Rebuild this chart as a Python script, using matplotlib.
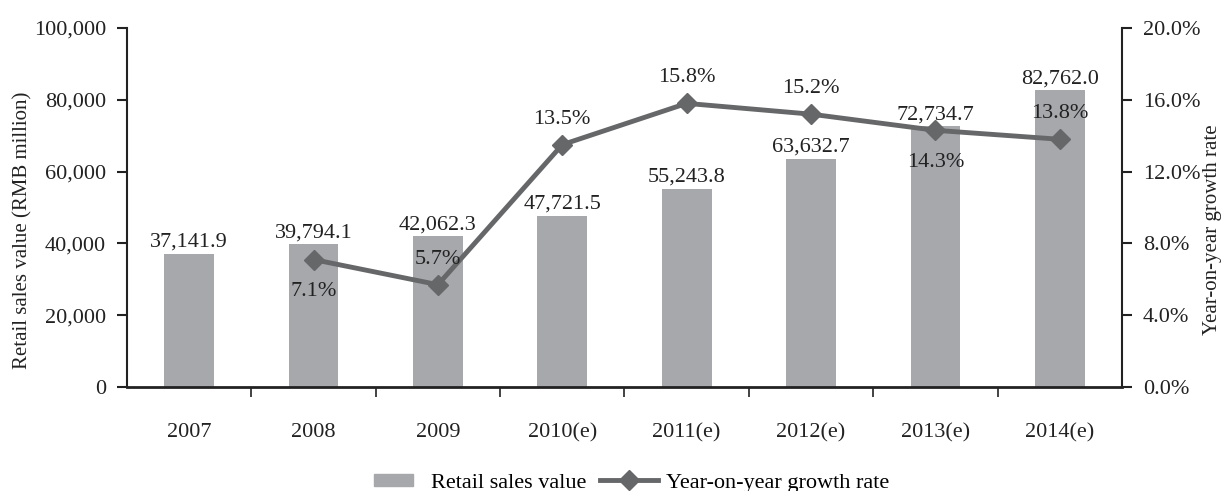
import matplotlib
matplotlib.use("Agg")
import matplotlib.pyplot as plt
from matplotlib.lines import Line2D
from matplotlib.patches import Patch, Rectangle
from matplotlib.legend_handler import HandlerPatch
import numpy as np

years = ["2007", "2008", "2009", "2010(e)", "2011(e)", "2012(e)", "2013(e)", "2014(e)"]
sales = [37141.9, 39794.1, 42062.3, 47721.5, 55243.8, 63632.7, 72734.7, 82762.0]
growth_years = ["2008", "2009", "2010(e)", "2011(e)", "2012(e)", "2013(e)", "2014(e)"]
growth = [7.1, 5.7, 13.5, 15.8, 15.2, 14.3, 13.8]
growth_label_below = [True, False, False, False, False, True, False]

plt.rcParams["font.family"] = ["Liberation Serif", "DejaVu Serif"]
FS = 16
LFS = 15
bar_color = "#a7a8ac"
line_color = "#666769"
text_color = "#222222"

fig = plt.figure(figsize=(12.27, 4.91), dpi=100)
ax = fig.add_axes([0.1035, 0.2118, 0.8109, 0.7312])
ax2 = ax.twinx()

x = np.arange(len(years))
ax.bar(x, sales, width=0.4, color=bar_color, zorder=2)
for xi, v in zip(x, sales):
    ax.text(xi, v + 500, f"{v:,.1f}", ha="center", va="bottom", fontsize=FS, color=text_color, zorder=5)

ax.set_xlim(-0.5, len(years) - 0.5)
ax.set_ylim(0, 100000)
ax.set_yticks(np.arange(0, 100001, 20000))
ax.set_yticklabels([f"{int(t):,}" for t in np.arange(0, 100001, 20000)], fontsize=FS, color=text_color)
ax.set_xticks(x)
ax.set_xticklabels(years, fontsize=FS, color=text_color)
ax.tick_params(axis="x", which="major", length=0, pad=26)
ax.set_xticks(np.arange(0.5, len(years) - 0.5, 1), minor=True)
ax.tick_params(axis="x", which="minor", length=7, width=1.2, direction="out", color="#222222")
ax.tick_params(axis="y", length=7, width=1.5, direction="out", color="#222222", pad=8)
ax.set_ylabel("Retail sales value (RMB million)", fontsize=LFS, color=text_color)
ax.yaxis.set_label_coords(-0.0945, 0.437)

for s in ["top", "right"]:
    ax.spines[s].set_visible(False)
ax.spines["left"].set_linewidth(1.5)
ax.spines["bottom"].set_linewidth(2)
ax.spines["left"].set_color("#222222")
ax.spines["bottom"].set_color("#222222")

gx = [years.index(g) for g in growth_years]
ax2.plot(gx, growth, color=line_color, lw=3.5, marker="D", markersize=10, zorder=4)
ax2.set_ylim(0, 20)
ax2.set_yticks(np.arange(0, 20.1, 4))
ax2.set_yticklabels([f"{t:.1f}%" for t in np.arange(0, 20.1, 4)], fontsize=FS, color=text_color)
ax2.tick_params(axis="y", length=7, width=1.5, direction="out", color="#222222", pad=8)
ax2.set_ylabel("Year-on-year growth rate", fontsize=LFS, color=text_color)
ax2.yaxis.set_label_coords(1.0814, 0.437)
for s in ["top", "left", "bottom"]:
    ax2.spines[s].set_visible(False)
ax2.spines["right"].set_linewidth(1.5)
ax2.spines["right"].set_color("#222222")
for xi, g, below in zip(gx, growth, growth_label_below):
    if below:
        ax2.text(xi, g - 1.25, f"{g:.1f}%", ha="center", va="top", fontsize=FS, color=text_color, zorder=6)
    else:
        ax2.text(xi, g + 0.9, f"{g:.1f}%", ha="center", va="bottom", fontsize=FS, color=text_color, zorder=6)


def small_patch(legend, orig_handle, xdescent, ydescent, width, height, fontsize):
    w = width * 0.68
    h = height * 0.75
    return Rectangle((xdescent + (width - w) / 2, ydescent + (height - h) / 2), w, h)


handles = [Patch(color=bar_color, label="Retail sales value"),
           Line2D([], [], color=line_color, lw=3.5, marker="D", markersize=10, label="Year-on-year growth rate")]
fig.legend(handles=handles, loc="lower center", bbox_to_anchor=(0.511, -0.045), ncol=2, frameon=False,
           fontsize=FS, handlelength=2.6, columnspacing=0.6, handletextpad=0.4,
           handler_map={Patch: HandlerPatch(patch_func=small_patch)})

fig.savefig("out.png", dpi=100)
